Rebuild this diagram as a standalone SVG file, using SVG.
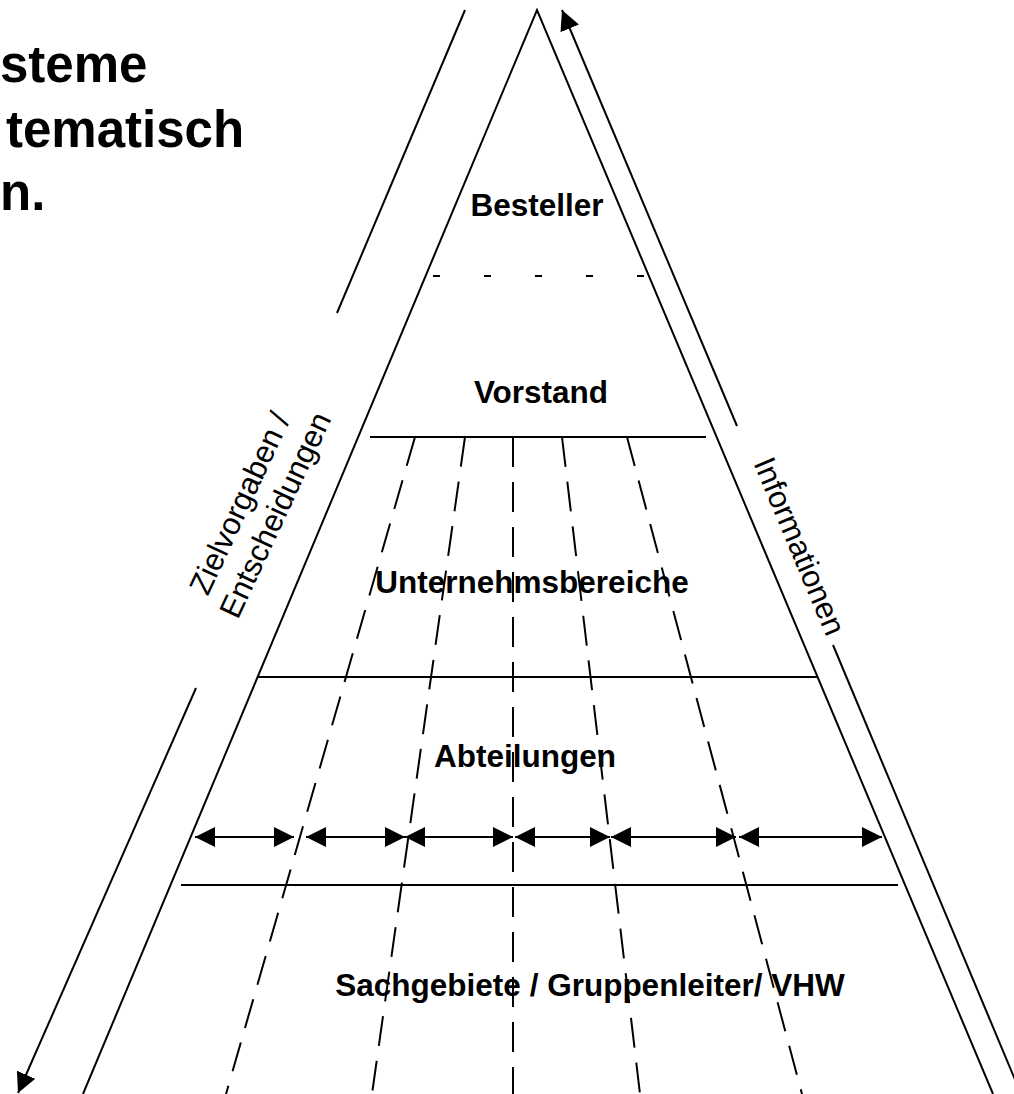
<svg xmlns="http://www.w3.org/2000/svg" width="1014" height="1094" viewBox="0 0 1014 1094">
  <style>
    .ln { stroke: #000; stroke-width: 2; fill: none; }
    .dash { stroke: #000; stroke-width: 2; fill: none; stroke-dasharray: 30 15; }
    .lbl { font-family: "Liberation Sans", Arial, sans-serif; font-weight: bold; font-size: 31.5px; fill: #000; text-anchor: middle; }
    .side { font-family: "Liberation Sans", Arial, sans-serif; font-size: 31px; fill: #000; text-anchor: middle; }
    .title { font-family: "Liberation Sans", Arial, sans-serif; font-weight: bold; font-size: 51px; fill: #000; }
  </style>
  <defs>
    <marker id="ah" viewBox="0 0 20 20" markerWidth="20" markerHeight="20" refX="20" refY="10" orient="auto-start-reverse" markerUnits="userSpaceOnUse">
      <path d="M0,0 L20,10 L0,20 z" fill="#000"/>
    </marker>
  </defs>
  <rect width="1014" height="1094" fill="#fff"/>

  <g id="title">
    <text class="title" x="0" y="82">steme</text>
    <text class="title" x="6" y="147">tematisch</text>
    <text class="title" x="0" y="210">n.</text>
  </g>

  <g id="pyramid">
    <path class="ln" d="M83,1094 L537,10 L993,1094"/>
    <line class="ln" x1="370" y1="437" x2="706" y2="437"/>
    <line class="ln" x1="258" y1="677" x2="818" y2="677"/>
    <line class="ln" x1="181" y1="885" x2="898" y2="885"/>
    <line stroke="#000" stroke-width="2" stroke-dasharray="7 44" x1="433" y1="276" x2="648" y2="276"/>
  </g>

  <g id="connectors">
    <line class="dash" x1="415" y1="437" x2="226" y2="1094"/>
    <line class="dash" x1="465" y1="437" x2="372" y2="1094"/>
    <line class="dash" x1="513" y1="437" x2="513" y2="1094"/>
    <line class="dash" x1="562" y1="437" x2="640" y2="1094"/>
    <line class="dash" x1="627" y1="437" x2="802" y2="1094"/>

    <line class="ln" x1="465" y1="10" x2="337" y2="313"/>
    <line class="ln" x1="196" y1="688" x2="18" y2="1093" marker-end="url(#ah)"/>
    <line class="ln" x1="737" y1="426" x2="562" y2="10" marker-end="url(#ah)"/>
    <line class="ln" x1="833" y1="645" x2="1021" y2="1094"/>

    <line class="ln" x1="195" y1="837" x2="294" y2="837" marker-start="url(#ah)" marker-end="url(#ah)"/>
    <line class="ln" x1="306" y1="837" x2="405" y2="837" marker-start="url(#ah)" marker-end="url(#ah)"/>
    <line class="ln" x1="405" y1="837" x2="513" y2="837" marker-start="url(#ah)" marker-end="url(#ah)"/>
    <line class="ln" x1="515" y1="837" x2="610" y2="837" marker-start="url(#ah)" marker-end="url(#ah)"/>
    <line class="ln" x1="611" y1="837" x2="736" y2="837" marker-start="url(#ah)" marker-end="url(#ah)"/>
    <line class="ln" x1="739" y1="837" x2="882" y2="837" marker-start="url(#ah)" marker-end="url(#ah)"/>
  </g>

  <g id="besteller"><text class="lbl" x="537" y="216">Besteller</text></g>
  <g id="vorstand"><text class="lbl" x="541" y="403">Vorstand</text></g>
  <g id="unternehmsbereiche"><text class="lbl" x="532" y="593">Unternehmsbereiche</text></g>
  <g id="abteilungen"><text class="lbl" x="525" y="767">Abteilungen</text></g>
  <g id="sachgebiete"><text class="lbl" x="590" y="996">Sachgebiete / Gruppenleiter/ VHW</text></g>

  <g id="zielvorgaben">
    <text class="side" transform="translate(258,507) rotate(-65)">
      <tspan x="0" y="-7.5">Zielvorgaben /</tspan>
      <tspan x="0" y="29.5">Entscheidungen</tspan>
    </text>
  </g>
  <g id="informationen">
    <text class="side" transform="translate(800,546) rotate(67.2)" x="0" y="11">Informationen</text>
  </g>
</svg>
